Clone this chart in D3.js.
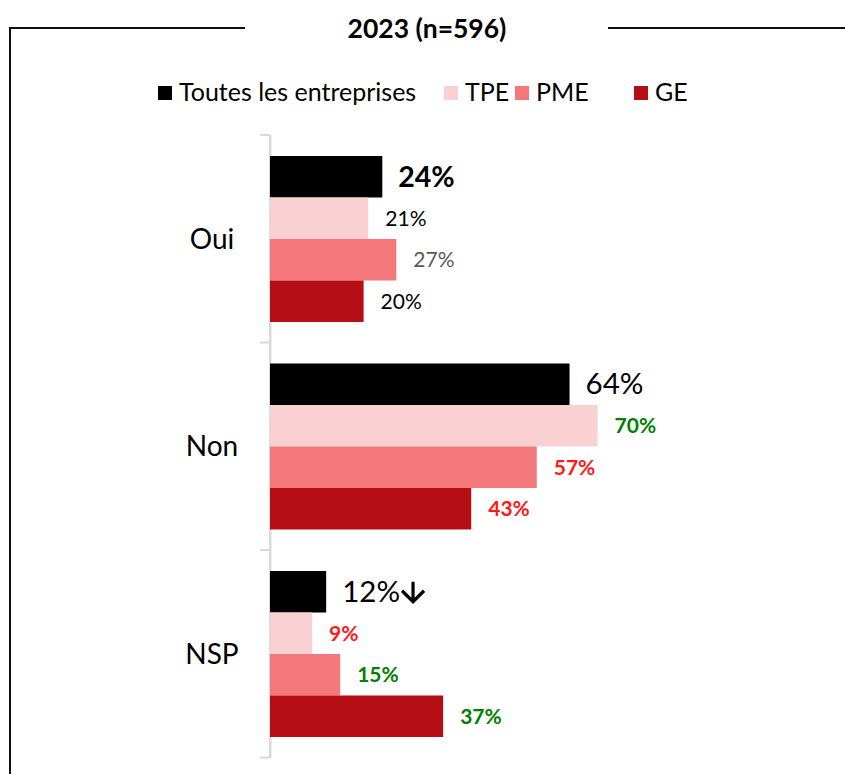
<!DOCTYPE html>
<html><head><meta charset="utf-8">
<script src="https://cdn.jsdelivr.net/npm/d3@7"></script>
<style>body{margin:0;background:#fff}svg{display:block}</style>
</head><body>
<svg id="c" width="845" height="774"></svg>
<script>
const title = "2023 (n=596)";
const categories = ["Oui", "Non", "NSP"];
const series = ["Toutes les entreprises", "TPE", "PME", "GE"];
const valToutes = [24, 64, 12];
const valTPE = [21, 70, 9];
const valPME = [27, 57, 15];
const valGE = [20, 43, 37];
// significance marks: "up" = green, "down" = red, "" = neutral
const sigToutes = ["", "", "down"];
const sigTPE = ["", "up", "down"];
const sigPME = ["", "down", "up"];
const sigGE = ["", "down", "up"];

const values = [valToutes, valTPE, valPME, valGE];
const sigs = [sigToutes, sigTPE, sigPME, sigGE];
const colors = ["#000000", "#f9d1d3", "#f3777b", "#b50f15"];
const font = "Lato, 'Open Sans', sans-serif";

const svg = d3.select("#c");

// frame
svg.append("path").attr("d", "M10,774 L10,28 L245,28").attr("fill","none").attr("stroke","#111").attr("stroke-width",2);
svg.append("path").attr("d", "M608,28 L845,28").attr("fill","none").attr("stroke","#111").attr("stroke-width",2);
svg.append("text").attr("x", 427).attr("y", 38).attr("text-anchor","middle")
  .attr("font-family", font).attr("font-weight","bold").attr("font-size",26.5).text(title);

// legend
const legX = [158, 444, 515, 634];
series.forEach((s, i) => {
  svg.append("rect").attr("x", legX[i]).attr("y", 86).attr("width", 14).attr("height", 14).attr("fill", colors[i]);
  svg.append("text").attr("x", legX[i] + 21).attr("y", 101).attr("font-family", font).attr("font-size", 25).attr("fill","#000").text(s);
});

const x = d3.scaleLinear().domain([0, 100]).range([270, 738]);
const y = d3.scaleBand().domain(categories).range([135, 757.5]).padding(0);
const yi = d3.scaleBand().domain(series).range([21, 187]).padding(0);

// axis
const axis = d3.axisLeft(y).tickSize(0).tickFormat("");
const ag = svg.append("g").attr("transform","translate(270,0)").call(axis);
ag.select(".domain").attr("stroke","#d9d9d9").attr("stroke-width",2);
const bounds = categories.map(c => y(c)).concat([y(categories[categories.length-1]) + y.bandwidth()]);
svg.selectAll(".btick").data(bounds).enter().append("line")
  .attr("x1", 260).attr("x2", 270).attr("y1", d => d).attr("y2", d => d)
  .attr("stroke","#d9d9d9").attr("stroke-width",2);
svg.append("line").attr("x1",270).attr("x2",270).attr("y1",bounds[0]).attr("y2",bounds[bounds.length-1]).attr("stroke","#d9d9d9").attr("stroke-width",2);

// category labels
svg.selectAll(".cat").data(categories).enter().append("text")
  .attr("x", 212).attr("y", d => y(d) + y.bandwidth()/2 + 10)
  .attr("text-anchor","middle").attr("font-family", font).attr("font-size", 28).attr("fill","#000").text(d => d);

// bars and labels
series.forEach((s, si) => {
  categories.forEach((c, ci) => {
    const v = values[si][ci];
    const y0 = y(c) + yi(s);
    svg.append("rect").attr("x", x(0)).attr("y", y0).attr("width", x(v) - x(0)).attr("height", yi.bandwidth())
      .attr("fill", colors[si]);
    const sig = sigs[si][ci];
    const lx = x(v) + (si === 0 ? 16 : 17);
    const ly = y0 + yi.bandwidth()/2 + (si===0 ? 10 : 7.5);
    const t = svg.append("text").attr("x", lx).attr("y", ly).attr("font-family", font);
    if (si === 0) {
      t.attr("font-size", ci === 0 ? 28.5 : 29.5).attr("font-weight", ci === 0 ? "bold" : "normal").attr("fill","#000").text(v + "%");
      if (sig) {
        const w = t.node().getComputedTextLength();
        const ax = lx + w + 13, top = ly - 20, bot = ly;
        const dir = sig === "down" ? 1 : -1;
        const tip = dir === 1 ? bot : top, base = dir === 1 ? top : bot;
        svg.append("path")
          .attr("d", `M${ax},${base} L${ax},${tip} M${ax-11},${tip - dir*11} L${ax},${tip} L${ax+11},${tip - dir*11}`)
          .attr("fill","none").attr("stroke","#000").attr("stroke-width",3.2).attr("stroke-linejoin","miter");
      }
    } else {
      const col = sig === "up" ? "#008000" : sig === "down" ? "#ff1a1a" : (si === 2 ? "#595959" : "#000");
      t.attr("font-size", 21).attr("font-weight", sig ? "bold" : "normal").attr("fill", col).text(v + "%");
    }
  });
});
</script>
</body></html>
